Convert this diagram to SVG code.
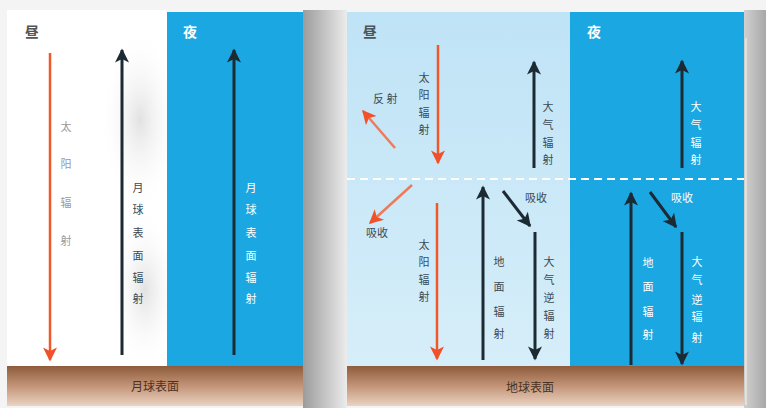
<svg xmlns="http://www.w3.org/2000/svg" width="766" height="408" viewBox="0 0 766 408">
<defs>
<style>
.cn{font-family:"Noto Sans CJK SC","Noto Sans",sans-serif;}
.lbl{font-size:11px;fill:#3a4a55;}
.lblw{font-size:11px;fill:#ffffff;}
.lblg{font-size:11px;fill:#9a9a9a;}
.head{font-size:14px;font-weight:bold;}
.blk{stroke:#1c2a33;stroke-width:3;fill:none;}
.org{stroke:#f0582a;stroke-width:2.5;fill:none;}
.orgl{stroke:#ef7a5a;stroke-width:2.5;fill:none;}
.ground-t{font-size:12px;fill:#4a3222;}
</style>
<linearGradient id="gnd" x1="0" y1="0" x2="0" y2="1">
<stop offset="0" stop-color="#8e5c3c"/>
<stop offset="0.5" stop-color="#c39478"/>
<stop offset="1" stop-color="#ead3c2"/>
</linearGradient>
<linearGradient id="gap" x1="0" y1="0" x2="1" y2="0">
<stop offset="0" stop-color="#9c9c9c"/>
<stop offset="1" stop-color="#ececec"/>
</linearGradient>
<linearGradient id="rsh" x1="0" y1="0" x2="1" y2="0">
<stop offset="0" stop-color="#d0d0d0"/>
<stop offset="1" stop-color="#a8a8a8"/>
</linearGradient>
<linearGradient id="lite" x1="0" y1="0" x2="0" y2="1">
<stop offset="0" stop-color="#bfe3f6"/>
<stop offset="1" stop-color="#d6eef9"/>
</linearGradient>
<radialGradient id="lsh" cx="0.5" cy="0.5" r="0.5">
<stop offset="0" stop-color="#e2e2e2"/>
<stop offset="1" stop-color="#ffffff" stop-opacity="0"/>
</radialGradient>
<marker id="ab" viewBox="0 0 10 10" refX="9" refY="5" markerWidth="15" markerHeight="14" markerUnits="userSpaceOnUse" orient="auto">
<path d="M0,0 L10,5 L0,10 L2.5,5 z" fill="#1c2a33"/>
</marker>
<marker id="ao" viewBox="0 0 10 10" refX="9" refY="5" markerWidth="15" markerHeight="14" markerUnits="userSpaceOnUse" orient="auto">
<path d="M0,0 L10,5 L0,10 L2.5,5 z" fill="#f0502a"/>
</marker>
</defs>

<rect width="766" height="408" fill="#f4f4f4"/>

<!-- left (moon) panel -->
<g id="moon-day">
<rect x="7" y="10" width="160" height="356" fill="#ffffff"/>
<ellipse cx="140" cy="120" rx="40" ry="90" fill="url(#lsh)"/>
<ellipse cx="145" cy="290" rx="35" ry="80" fill="url(#lsh)"/>
<text class="cn head" x="25" y="37" fill="#555">昼</text>
</g>
<g id="moon-night">
<rect x="167" y="12" width="136" height="354" fill="#1ba8e2"/>
<text class="cn head" x="183" y="37" fill="#ffffff">夜</text>
</g>
<g id="moon-ground">
<rect x="7" y="366" width="296" height="40" fill="url(#gnd)"/>
<text class="cn ground-t" x="155" y="391" text-anchor="middle">月球表面</text>
</g>
<rect x="303" y="10" width="44" height="398" fill="url(#gap)"/>

<!-- right (earth) panel -->
<g id="earth-day">
<rect x="347" y="12" width="223" height="354" fill="url(#lite)"/>
<text class="cn head" x="363" y="37" fill="#4a5560">昼</text>
</g>
<g id="earth-night">
<rect x="570" y="12" width="174" height="354" fill="#1ba8e2"/>
<text class="cn head" x="587" y="37" fill="#ffffff">夜</text>
</g>
<g id="atm-boundary">
<line x1="347" y1="179" x2="744" y2="179" stroke="#ffffff" stroke-width="2" stroke-dasharray="8 5"/>
</g>
<g id="earth-ground">
<rect x="347" y="366" width="397" height="40" fill="url(#gnd)"/>
<text class="cn ground-t" x="530" y="392" text-anchor="middle">地球表面</text>
</g>
<rect x="744" y="10" width="22" height="398" fill="url(#rsh)"/>
<line x1="746" y1="38" x2="746" y2="405" stroke="#efe6d8" stroke-width="1.5"/>

<!-- connectors -->
<g id="connectors">
<line class="org" x1="50" y1="53" x2="50" y2="360" marker-end="url(#ao)"/>
<line class="blk" x1="122" y1="355" x2="122" y2="50" marker-end="url(#ab)"/>
<line class="blk" x1="234" y1="355" x2="234" y2="50" marker-end="url(#ab)"/>

<line class="org" x1="438" y1="45" x2="438" y2="163" marker-end="url(#ao)"/>
<line class="orgl" x1="395" y1="148" x2="363" y2="111" marker-end="url(#ao)"/>
<line class="blk" x1="534" y1="168" x2="534" y2="62" marker-end="url(#ab)"/>
<line class="orgl" x1="412" y1="185" x2="370" y2="223" marker-end="url(#ao)"/>
<line class="org" x1="437" y1="203" x2="437" y2="359" marker-end="url(#ao)"/>
<line class="blk" x1="483" y1="360" x2="483" y2="187" marker-end="url(#ab)"/>
<line class="blk" x1="503" y1="191" x2="530" y2="226" stroke-width="2.5" marker-end="url(#ab)"/>
<line class="blk" x1="535" y1="232" x2="535" y2="359" marker-end="url(#ab)"/>

<line class="blk" x1="682" y1="168" x2="682" y2="61" marker-end="url(#ab)"/>
<line class="blk" x1="631" y1="365" x2="631" y2="193" marker-end="url(#ab)"/>
<line class="blk" x1="650" y1="192" x2="676" y2="227" stroke-width="2.5" marker-end="url(#ab)"/>
<line class="blk" x1="682" y1="232" x2="682" y2="364" marker-end="url(#ab)"/>
</g>

<!-- labels -->
<g id="labels">
<text class="cn lblg" text-anchor="middle"><tspan x="66" y="131">太</tspan><tspan x="66" y="168">阳</tspan><tspan x="66" y="207">辐</tspan><tspan x="66" y="245">射</tspan></text>
<text class="cn lbl" text-anchor="middle" fill="#555"><tspan x="138" y="192">月</tspan><tspan x="138" y="214">球</tspan><tspan x="138" y="237">表</tspan><tspan x="138" y="260">面</tspan><tspan x="138" y="282">辐</tspan><tspan x="138" y="303">射</tspan></text>
<text class="cn lblw" text-anchor="middle"><tspan x="251" y="192">月</tspan><tspan x="251" y="214">球</tspan><tspan x="251" y="237">表</tspan><tspan x="251" y="260">面</tspan><tspan x="251" y="282">辐</tspan><tspan x="251" y="303">射</tspan></text>

<text class="cn lbl" text-anchor="middle"><tspan x="424" y="82">太</tspan><tspan x="424" y="99">阳</tspan><tspan x="424" y="117">辐</tspan><tspan x="424" y="134">射</tspan></text>
<text class="cn lbl" x="373" y="103">反 射</text>
<text class="cn lbl" text-anchor="middle"><tspan x="548" y="111">大</tspan><tspan x="548" y="129">气</tspan><tspan x="548" y="147">辐</tspan><tspan x="548" y="164">射</tspan></text>
<text class="cn lbl" x="366" y="237">吸收</text>
<text class="cn lbl" text-anchor="middle"><tspan x="424" y="249">太</tspan><tspan x="424" y="266">阳</tspan><tspan x="424" y="284">辐</tspan><tspan x="424" y="301">射</tspan></text>
<text class="cn lbl" text-anchor="middle"><tspan x="499" y="266">地</tspan><tspan x="499" y="291">面</tspan><tspan x="499" y="316">辐</tspan><tspan x="499" y="338">射</tspan></text>
<text class="cn lbl" x="525" y="202">吸收</text>
<text class="cn lbl" text-anchor="middle"><tspan x="549" y="266">大</tspan><tspan x="549" y="284">气</tspan><tspan x="549" y="302">逆</tspan><tspan x="549" y="320">辐</tspan><tspan x="549" y="338">射</tspan></text>

<text class="cn lblw" text-anchor="middle"><tspan x="696" y="111">大</tspan><tspan x="696" y="129">气</tspan><tspan x="696" y="147">辐</tspan><tspan x="696" y="164">射</tspan></text>
<text class="cn lblw" text-anchor="middle"><tspan x="648" y="267">地</tspan><tspan x="648" y="291">面</tspan><tspan x="648" y="316">辐</tspan><tspan x="648" y="339">射</tspan></text>
<text class="cn lblw" x="671" y="202">吸收</text>
<text class="cn lblw" text-anchor="middle"><tspan x="697" y="266">大</tspan><tspan x="697" y="284">气</tspan><tspan x="697" y="304">逆</tspan><tspan x="697" y="321">辐</tspan><tspan x="697" y="342">射</tspan></text>
</g>
</svg>
